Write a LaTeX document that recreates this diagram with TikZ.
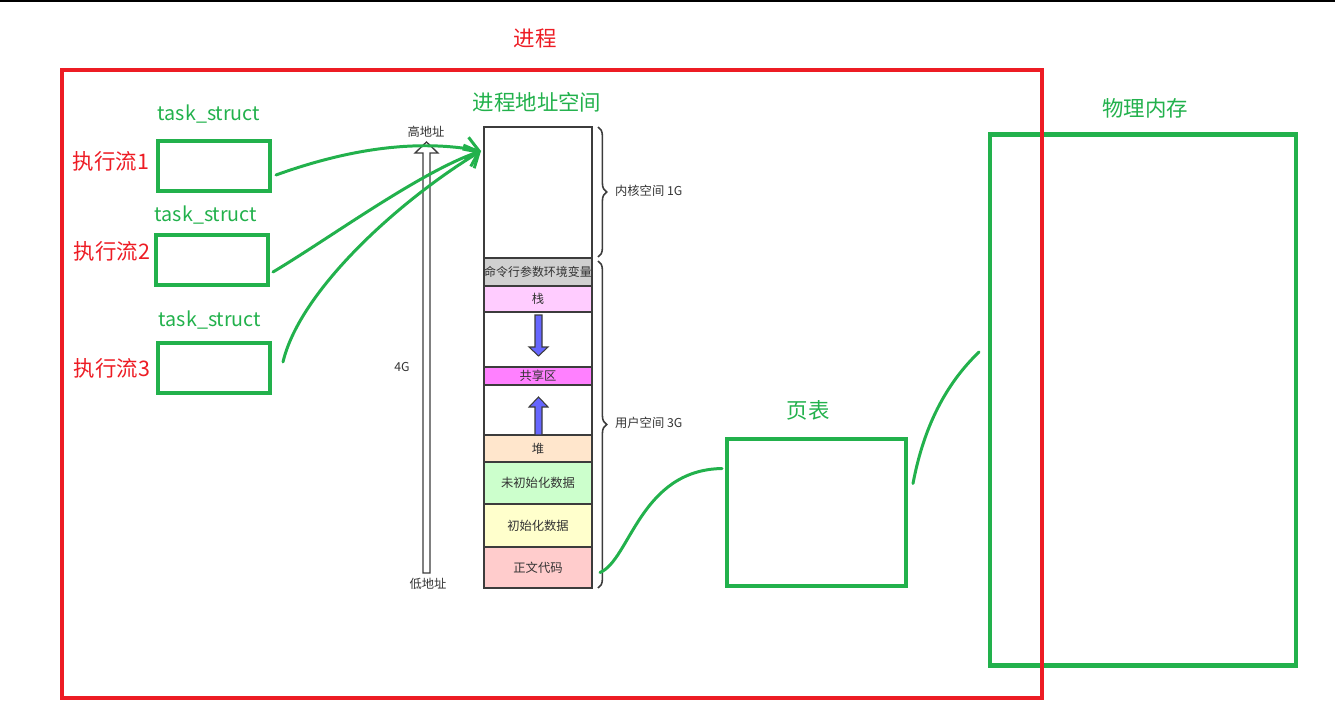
\documentclass[tikz,border=0pt]{standalone}
\usepackage{fontspec}
\setmainfont{Noto Sans CJK SC}
\usetikzlibrary{arrows.meta,positioning,decorations.pathreplacing}
\definecolor{pgreen}{RGB}{34,177,76}
\definecolor{pred}{RGB}{237,28,36}
\definecolor{segline}{RGB}{60,60,60}
\definecolor{segtxt}{RGB}{51,51,51}
\definecolor{cmdgray}{RGB}{208,208,208}
\definecolor{stkpink}{RGB}{255,204,255}
\definecolor{shmpink}{RGB}{255,128,255}
\definecolor{heapor}{RGB}{255,230,204}
\definecolor{bssgrn}{RGB}{204,255,204}
\definecolor{datayel}{RGB}{255,255,204}
\definecolor{codered}{RGB}{255,204,204}
\definecolor{arrblue}{RGB}{102,102,255}
\tikzset{
  big/.style    ={font=\fontsize{12.2pt}{14pt}\selectfont},
  glab/.style   ={big, text=pgreen},
  tslab/.style  ={glab, font=\fontsize{11.2pt}{13pt}\selectfont},
  rlab/.style   ={big, text=pred},
  gbox/.style   ={rectangle, draw=pgreen, line width=2.6pt, inner sep=0pt, outer sep=0pt},
  seg/.style    ={rectangle, draw=segline, line width=0.85pt, minimum width=108*0.02cm,
                  inner sep=0pt, outer sep=0pt, text=segtxt, font=\fontsize{7pt}{8pt}\selectfont},
  note/.style   ={font=\fontsize{7pt}{8pt}\selectfont, text=segtxt, inner sep=1pt},
  link/.style   ={draw=pgreen, line width=1.7pt, line cap=round},
  ptr/.style    ={link, -{Straight Barb[length=2.5mm, width=4.5mm]}},
  brc/.style    ={decorate, decoration={brace, amplitude=5pt}, draw=segline, line width=0.9pt},
  growarr/.style={draw=segline, line width=0.6pt, fill=arrblue},
  addr/.style   ={draw=segline, line width=0.75pt, fill=white}
}
\begin{document}
\begin{tikzpicture}[x=0.02cm, y=-0.02cm]
\useasboundingbox (0,0) rectangle (1335,716);
\draw[line width=1.2pt] (0,1) -- (1335,1);

% physical memory and page table
\node[gbox, minimum width=306*0.02cm, minimum height=531*0.02cm] (phys) at (1143,400) {};
\node[glab] (physlab) at (1145,108) {物理内存};
\node[gbox, minimum width=179*0.02cm, minimum height=147*0.02cm] (pgt) at (816.5,512.5) {};
\node[glab] (pgtlab) at (808,410) {页表};

% the process
\node[rectangle, draw=pred, line width=2.6pt, inner sep=0pt,
      minimum width=980*0.02cm, minimum height=628*0.02cm] (proc) at (552,384) {};
\node[rlab] (proclab) at (535,38) {进程};

% execution flows
\node[gbox, minimum width=112*0.02cm, minimum height=50*0.02cm] (ts1) at (214,166) {};
\node[gbox, minimum width=112*0.02cm, minimum height=50*0.02cm] (ts2) at (212,260) {};
\node[gbox, minimum width=112*0.02cm, minimum height=50*0.02cm] (ts3) at (214,368) {};
\node[tslab] (tsl1) at (209,114) {task\_struct};
\node[tslab] (tsl2) at (206,215) {task\_struct};
\node[tslab] (tsl3) at (210,320) {task\_struct};
\node[rlab] (fl1) at (111,161) {执行流1};
\node[rlab] (fl2) at (112,251) {执行流2};
\node[rlab] (fl3) at (112,368) {执行流3};

% address space
\node[glab] (aslab) at (537,102) {进程地址空间};
\node[seg, minimum height=131*0.02cm] (kern) at (538,192.5) {};
\node[seg, minimum height=28*0.02cm, fill=cmdgray,
      font=\fontsize{6.8pt}{7.5pt}\selectfont] (cmd) at (538,272) {命令行参数环境变量};
\node[seg, minimum height=26*0.02cm, fill=stkpink] (stk) at (538,299) {栈};
\node[seg, minimum height=55*0.02cm] (gapa) at (538,339.5) {};
\node[seg, minimum height=18*0.02cm, fill=shmpink] (shm) at (538,376) {共享区};
\node[seg, minimum height=50*0.02cm] (gapb) at (538,410) {};
\node[seg, minimum height=27*0.02cm, fill=heapor] (heap) at (538,448.5) {堆};
\node[seg, minimum height=42*0.02cm, fill=bssgrn] (bss) at (538,483) {未初始化数据};
\node[seg, minimum height=43*0.02cm, fill=datayel] (data) at (538,525.5) {初始化数据};
\node[seg, minimum height=41*0.02cm, fill=codered] (code) at (538,567.5) {正文代码};

\draw[growarr] (535,315) -- (542,315) -- (542,347) -- (548,347) -- (538.5,356)
  -- (529,347) -- (535,347) -- cycle;
\draw[growarr] (535,435) -- (542,435) -- (542,407) -- (548,407) -- (538.5,397)
  -- (529,407) -- (535,407) -- cycle;

% address arrow
\draw[addr] (423,573) -- (430,573) -- (430,153) -- (438,153) -- (426.5,142)
  -- (415,153) -- (423,153) -- cycle;
\node[note] (hi) at (426,132) {高地址};
\node[note] (lo) at (428,584) {低地址};
\node[note] (sz) at (402,367) {4G};

% braces
\draw[brc] (598,127) -- (598,257);
\draw[brc] (598,261) -- (598,588);
\node[note, anchor=west] (kspace) at (613,191) {内核空间 1G};
\node[note, anchor=west] (uspace) at (613,423) {用户空间 3G};

% links
\coordinate (tip) at (481,151);
\draw[ptr] ([shift={(6,9)}]ts1.east) .. controls (340,152) and (410,138) .. (tip);
\draw[ptr] ([shift={(5,12)}]ts2.east) .. controls (330,238) and (420,172) .. (tip);
\draw[ptr] ([shift={(13,-6)}]ts3.east) .. controls (300,290) and (400,200) .. (tip);
\draw[link] ([shift={(8,5)}]code.east) .. controls (630,560) and (640,470)
  .. ([shift={(-5,-44)}]pgt.west);
\draw[link] ([shift={(7,-29)}]pgt.east) .. controls (925,420) and (950,380)
  .. ([shift={(-11,-48)}]phys.west);
\end{tikzpicture}
\end{document}
